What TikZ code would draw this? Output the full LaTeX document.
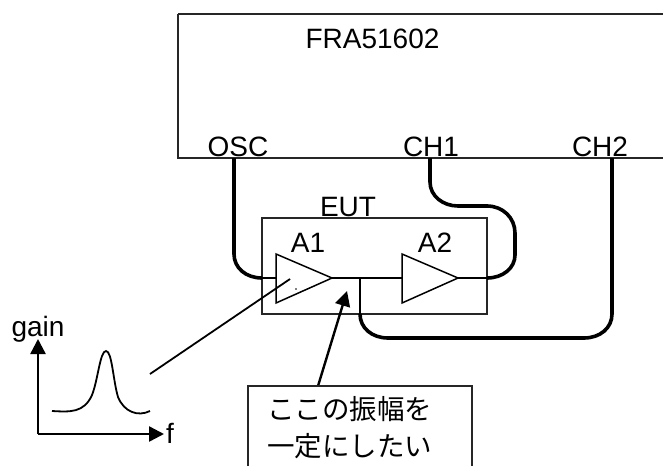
\documentclass[tikz,border=0pt]{standalone}
\usepackage{fontspec}
\setmainfont{Liberation Sans}
\newfontfamily\cjk{Noto Sans CJK JP}
\usetikzlibrary{arrows.meta}
\tikzset{
  thinbox/.style={draw=black!85,line width=1.5pt},
  thinln/.style={draw=black,line width=1.5pt},
  cable/.style={draw=black,line width=3.6pt},
  lbl/.style={inner sep=0pt,anchor=base,font=\fontsize{28}{28}\selectfont,text=black},
  jp/.style={inner sep=0pt,anchor=west,font=\cjk\fontsize{27.5}{27.5}\selectfont,text=black},
  arrowln/.style={draw=black,line width=2.4pt,-{Triangle[length=15pt,width=15pt]}},
  amp/.style={draw=black,line width=1.5pt}
}
\begin{document}
\begin{tikzpicture}[x=1pt,y=-1pt]
\useasboundingbox (0,0) rectangle (663,466);
\draw[thinbox] (178,14) -- (663,14);
\draw[thinbox] (663,158) -- (178,158) -- (178,14);
\node[lbl] (fra) at (372.5,48) {FRA51602};
\coordinate (osc) at (234,158);
\coordinate (ch1) at (430,158);
\coordinate (ch2) at (612,158);
\node[lbl] (osclbl) at (238,156) {OSC};
\node[lbl] (ch1lbl) at (431,156) {CH1};
\node[lbl] (ch2lbl) at (600,156) {CH2};
\draw[thinbox] (262,218) rectangle (487,314);
\node[lbl] (eut) at (348,216) {EUT};
\node[lbl] (a1) at (308,252) {A1};
\node[lbl] (a2) at (435,252) {A2};
\coordinate (a1in) at (276,278);
\coordinate (a1out) at (332,278);
\coordinate (a2in) at (402,278);
\coordinate (a2out) at (458,278);
\coordinate (j) at (360,278);
\draw[amp] (276,254) -- (332,278) -- (276,303) -- cycle;
\draw[amp] (402,254) -- (458,278) -- (402,303) -- cycle;
\draw[thinln] (262,278) -- (a1in);
\draw[thinln] (a1out) -- (a2in);
\draw[thinln] (a2out) -- (487,278);
\draw[thinln] (j) -- (360,314);
\draw[cable] (osc) -- (234,254) .. controls (234,268) and (246,278) .. (262,278);
\draw[cable] (ch1) -- (430,182) .. controls (430,196) and (443,206) .. (458,206) -- (487,206) .. controls (503,206) and (515,218) .. (515,233) -- (515,255) .. controls (515,268) and (503,278) .. (487,278);
\draw[cable] (360,314) .. controls (360,328) and (372,338) .. (388,338) -- (584,338) .. controls (600,338) and (612,328) .. (612,314) -- (ch2);
\coordinate (pk) at (150,374);
\draw[thinln,line width=1.8pt] (pk) -- (290,279);
\fill (296,289) circle (0.8pt);
\coordinate (boxtop) at (318,386);
\draw[arrowln] (boxtop) -- (347,291);
\coordinate (orig) at (38,434);
\draw[arrowln] (orig) -- (38,339);
\draw[arrowln] (orig) -- (164,434);
\node[lbl] (gain) at (38,336) {gain};
\node[lbl] (f) at (170,443) {f};
\draw[thinln,line width=1.8pt] (52,411) .. controls (70,412) and (84,413) .. (92,395) .. controls (98,380) and (100,351) .. (106,351) .. controls (112,351) and (113,380) .. (118,397) .. controls (124,412) and (138,417) .. (150,411);
\draw[thinbox] (248,466) -- (248,386) -- (472,386) -- (472,466);
\node[jp] (t1) at (267,409) {ここの振幅を};
\node[jp] (t2) at (267,446) {一定にしたい};
\end{tikzpicture}
\end{document}
